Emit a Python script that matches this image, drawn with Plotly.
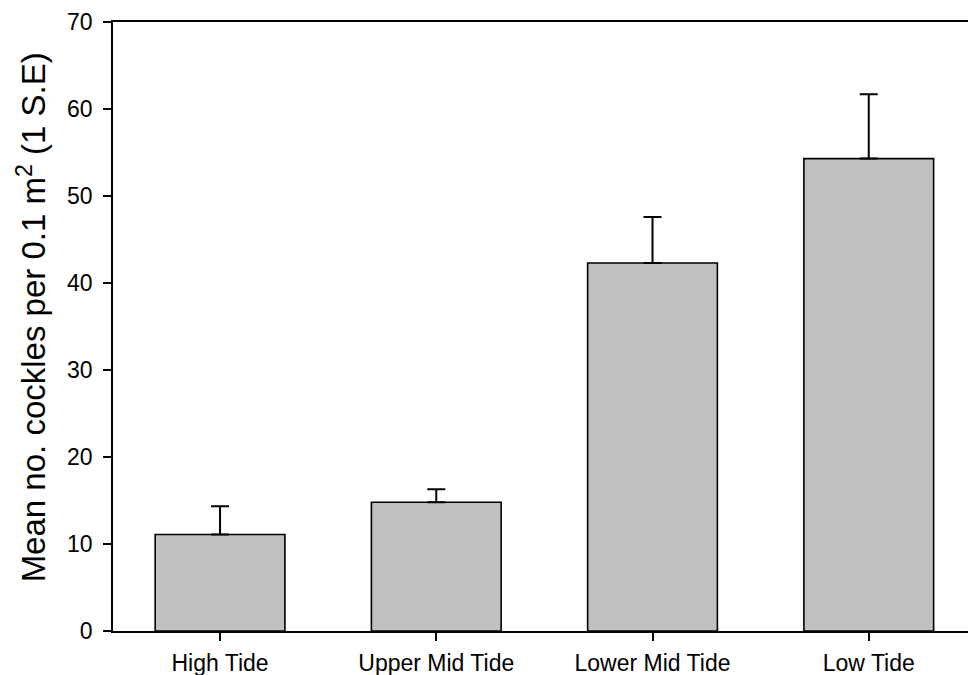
import plotly.graph_objects as go

categories = ["High Tide", "Upper Mid Tide", "Lower Mid Tide", "Low Tide"]
means = [11.1, 14.8, 42.3, 54.3]
se = [3.25, 1.5, 5.3, 7.4]
y_ticks = [0, 10, 20, 30, 40, 50, 60, 70]

FONT = "Arial, Liberation Sans, sans-serif"

fig = go.Figure()
fig.add_trace(go.Bar(
    x=list(range(len(categories))),
    y=means,
    width=0.6,
    marker=dict(color="#c0c0c0", line=dict(color="black", width=1.6)),
    error_y=dict(type="data", symmetric=False, array=se, arrayminus=[0] * len(se),
                 color="black", thickness=2, width=9),
    showlegend=False,
))

fig.update_layout(
    width=968, height=675,
    margin=dict(l=113, r=0, t=22, b=44),
    plot_bgcolor="white", paper_bgcolor="white",
    font=dict(family=FONT, color="black"),
    xaxis=dict(
        range=[-0.495, 3.459],
        tickmode="array", tickvals=list(range(len(categories))), ticktext=categories,
        ticks="outside", ticklen=8, tickwidth=1.5, tickcolor="black",
        showline=True, linecolor="black", linewidth=1.5, mirror=True,
        showgrid=False, zeroline=False,
        tickfont=dict(size=23, family=FONT, color="black"),
        ticklabelstandoff=3,
    ),
    yaxis=dict(
        range=[0, 70],
        tickmode="array", tickvals=y_ticks,
        ticks="outside", ticklen=8, tickwidth=1.5, tickcolor="black",
        showline=True, linecolor="black", linewidth=1.5,
        showgrid=False, zeroline=False,
        tickfont=dict(size=23, family=FONT, color="black"),
        ticklabelstandoff=6,
    ),
    annotations=[dict(
        text="Mean no. cockles per 0.1 m<sup>2</sup> (1 S.E)",
        xref="paper", yref="paper",
        x=(32 - 113) / 855, y=0.515,
        xanchor="center", yanchor="middle",
        textangle=-90, showarrow=False,
        font=dict(size=33, family=FONT, color="black"),
    )],
    shapes=[
        dict(type="line", xref="paper", yref="y", x0=-10 / 855, x1=0, y0=0, y1=0,
             line=dict(color="black", width=1.5)),
        dict(type="line", xref="paper", yref="y", x0=-10 / 855, x1=0, y0=70, y1=70,
             line=dict(color="black", width=1.5)),
    ],
)

fig.write_html("out.html")
